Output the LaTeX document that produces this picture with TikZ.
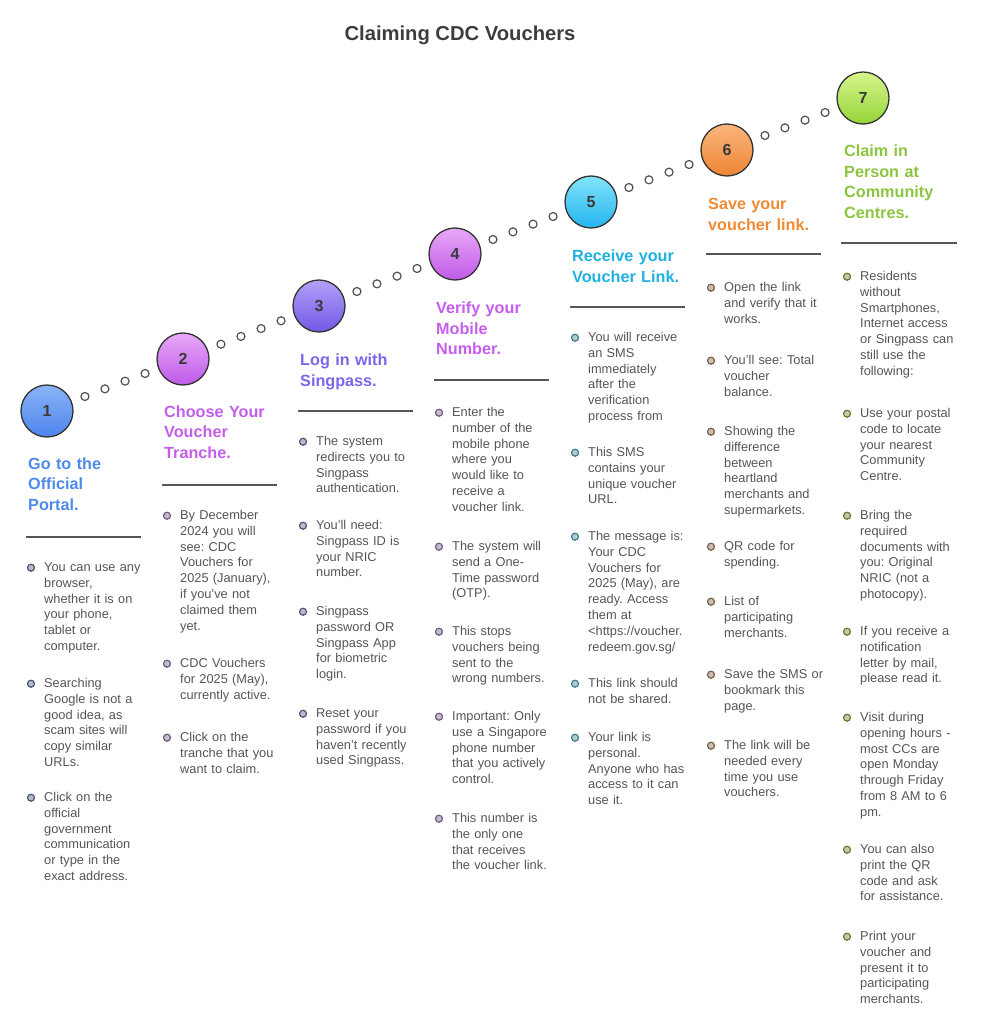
\documentclass[tikz,border=0pt]{standalone}
\usepackage{fontspec}
\setmainfont{Liberation Sans}
\usetikzlibrary{calc}
\frenchspacing
\definecolor{bodytext}{HTML}{555555}
\definecolor{rulec}{HTML}{555555}
\definecolor{circline}{HTML}{333333}
\definecolor{numc}{HTML}{3A3A3A}
\definecolor{maintitle}{HTML}{3D3D3D}
\definecolor{tA}{HTML}{4E8BE9}
\definecolor{tB}{HTML}{C25EE8}
\definecolor{tC}{HTML}{7A66EE}
\definecolor{tD}{HTML}{C55DED}
\definecolor{tE}{HTML}{1FB1E0}
\definecolor{tF}{HTML}{EF8A35}
\definecolor{tG}{HTML}{8CC540}
\definecolor{bA}{HTML}{4A5575}
\definecolor{bB}{HTML}{6F5A80}
\definecolor{bC}{HTML}{5A4F7A}
\definecolor{bD}{HTML}{6F5A80}
\definecolor{bE}{HTML}{3F7D8A}
\definecolor{bF}{HTML}{7A5E45}
\definecolor{bG}{HTML}{667A30}
\tikzset{
  stepcircle/.style={circle, minimum size=52pt, inner sep=0pt, draw=circline, line width=1.3pt,
    shading=axis, shading angle=0, font=\bfseries\fontsize{16}{16}\selectfont, text=numc},
  dotc/.style={circle, minimum size=8pt, inner sep=0pt, draw=circline!85, line width=1.2pt, fill=white},
  ttl/.style={anchor=base west, inner sep=0pt, align=left, text width=150pt,
    font=\bfseries\fontsize{16.2}{20.7}\selectfont},
  itemtext/.style={anchor=base west, inner sep=0pt, align=left, text width=140pt, text=bodytext,
    font=\fontsize{12.8}{15.8}\selectfont},
  bul/.style={circle, minimum size=7pt, inner sep=0pt, line width=1.2pt},
  rulel/.style={draw=rulec, line width=1.5pt}
}
\newcommand\bitem[5]{%
  \node[bul, draw=#5, fill=#5!40] (#1b) at (#2+3,#3-3.8) {};
  \node[itemtext] (#1) at (#2+16,#3) {#4};}
\begin{document}
\begin{tikzpicture}[x=1pt,y=-1pt]
\useasboundingbox (0,0) rectangle (983,1024);

\node[anchor=base, inner sep=0pt, text=maintitle, font=\bfseries\fontsize{20.2}{24}\selectfont] (title) at (460,41) {Claiming CDC Vouchers};

% step circles
\node[stepcircle, top color={rgb,255:red,138;green,180;blue,248}, bottom color={rgb,255:red,78;green,132;blue,236}] (c1) at (47,411) {1};
\node[stepcircle, top color={rgb,255:red,232;green,168;blue,247}, bottom color={rgb,255:red,190;green,90;blue,234}] (c2) at (183,359) {2};
\node[stepcircle, top color={rgb,255:red,180;green,160;blue,248}, bottom color={rgb,255:red,114;green,88;blue,230}] (c3) at (319,306) {3};
\node[stepcircle, top color={rgb,255:red,232;green,168;blue,247}, bottom color={rgb,255:red,192;green,90;blue,233}] (c4) at (455,254) {4};
\node[stepcircle, top color={rgb,255:red,130;green,228;blue,251}, bottom color={rgb,255:red,36;green,180;blue,238}] (c5) at (591,202) {5};
\node[stepcircle, top color={rgb,255:red,250;green,182;blue,124}, bottom color={rgb,255:red,238;green,132;blue,52}] (c6) at (727,150) {6};
\node[stepcircle, top color={rgb,255:red,214;green,246;blue,140}, bottom color={rgb,255:red,150;green,212;blue,58}] (c7) at (863,98) {7};

% dotted connectors
\foreach \a/\b in {c1/c2,c2/c3,c3/c4,c4/c5,c5/c6,c6/c7}{
  \foreach \t in {0.279,0.426,0.574,0.721}{
    \node[dotc] at ($(\a)!\t!(\b)$) {};
  }
}

% titles
\node[ttl, text=tA] (t1) at (28,469) {Go to the\\Official\\Portal.};
\node[ttl, text=tB] (t2) at (164,417) {Choose Your\\Voucher\\Tranche.};
\node[ttl, text=tC] (t3) at (300,365.5) {Log in with\\Singpass.};
\node[ttl, text=tD] (t4) at (436,313.5) {Verify your\\Mobile\\Number.};
\node[ttl, text=tE] (t5) at (572,261.5) {Receive your\\Voucher Link.};
\node[ttl, text=tF] (t6) at (708,209.5) {Save your\\voucher link.};
\node[ttl, text=tG] (t7) at (844,156.5) {Claim in\\Person at\\Community\\Centres.};

% rules
\draw[rulel] (26,537) -- (141,537);
\draw[rulel] (162,485) -- (277,485);
\draw[rulel] (298,411) -- (413,411);
\draw[rulel] (434,380) -- (549,380);
\draw[rulel] (570,307) -- (685,307);
\draw[rulel] (706,254) -- (821,254);
\draw[rulel] (841,243) -- (957,243);

% column 1
\bitem{i11}{28}{571.5}{You can use any\\browser,\\whether it is on\\your phone,\\tablet or\\computer.}{bA}
\bitem{i12}{28}{687.5}{Searching\\Google is not a\\good idea, as\\scam sites will\\copy similar\\URLs.}{bA}
\bitem{i13}{28}{801.5}{Click on the\\official\\government\\communication\\or type in the\\exact address.}{bA}

% column 2
\bitem{i21}{164}{519.5}{By December\\2024 you will\\see: CDC\\Vouchers for\\2025 (January),\\if you've not\\claimed them\\yet.}{bB}
\bitem{i22}{164}{667.5}{CDC Vouchers\\for 2025 (May),\\currently active.}{bB}
\bitem{i23}{164}{741.5}{Click on the\\tranche that you\\want to claim.}{bB}

% column 3
\bitem{i31}{300}{445.5}{The system\\redirects you to\\Singpass\\authentication.}{bC}
\bitem{i32}{300}{529.5}{You'll need:\\Singpass ID is\\your NRIC\\number.}{bC}
\bitem{i33}{300}{615.5}{Singpass\\password OR\\Singpass App\\for biometric\\login.}{bC}
\bitem{i34}{300}{717.5}{Reset your\\password if you\\haven't recently\\used Singpass.}{bC}

% column 4
\bitem{i41}{436}{416.5}{Enter the\\number of the\\mobile phone\\where you\\would like to\\receive a\\voucher link.}{bD}
\bitem{i42}{436}{550.5}{The system will\\send a One-\\Time password\\(OTP).}{bD}
\bitem{i43}{436}{635.5}{This stops\\vouchers being\\sent to the\\wrong numbers.}{bD}
\bitem{i44}{436}{720.5}{Important: Only\\use a Singapore\\phone number\\that you actively\\control.}{bD}
\bitem{i45}{436}{822.5}{This number is\\the only one\\that receives\\the voucher link.}{bD}

% column 5
\bitem{i51}{572}{341.5}{You will receive\\an SMS\\immediately\\after the\\verification\\process from}{bE}
\bitem{i52}{572}{456.5}{This SMS\\contains your\\unique voucher\\URL.}{bE}
\bitem{i53}{572}{540.5}{The message is:\\Your CDC\\Vouchers for\\2025 (May), are\\ready. Access\\them at\\<https://voucher.\\redeem.gov.sg/}{bE}
\bitem{i54}{572}{687.5}{This link should\\not be shared.}{bE}
\bitem{i55}{572}{741.5}{Your link is\\personal.\\Anyone who has\\access to it can\\use it.}{bE}

% column 6
\bitem{i61}{708}{291.5}{Open the link\\and verify that it\\works.}{bF}
\bitem{i62}{708}{364.5}{You'll see: Total\\voucher\\balance.}{bF}
\bitem{i63}{708}{435.5}{Showing the\\difference\\between\\heartland\\merchants and\\supermarkets.}{bF}
\bitem{i64}{708}{550.5}{QR code for\\spending.}{bF}
\bitem{i65}{708}{605.5}{List of\\participating\\merchants.}{bF}
\bitem{i66}{708}{678.5}{Save the SMS or\\bookmark this\\page.}{bF}
\bitem{i67}{708}{749.5}{The link will be\\needed every\\time you use\\vouchers.}{bF}

% column 7
\bitem{i71}{844}{280.5}{Residents\\without\\Smartphones,\\Internet access\\or Singpass can\\still use the\\following:}{bG}
\bitem{i72}{844}{417.5}{Use your postal\\code to locate\\your nearest\\Community\\Centre.}{bG}
\bitem{i73}{844}{519.5}{Bring the\\required\\documents with\\you: Original\\NRIC (not a\\photocopy).}{bG}
\bitem{i74}{844}{635.5}{If you receive a\\notification\\letter by mail,\\please read it.}{bG}
\bitem{i75}{844}{721.5}{Visit during\\opening hours -\\most CCs are\\open Monday\\through Friday\\from 8 AM to 6\\pm.}{bG}
\bitem{i76}{844}{853.5}{You can also\\print the QR\\code and ask\\for assistance.}{bG}
\bitem{i77}{844}{940.5}{Print your\\voucher and\\present it to\\participating\\merchants.}{bG}
\end{tikzpicture}
\end{document}
